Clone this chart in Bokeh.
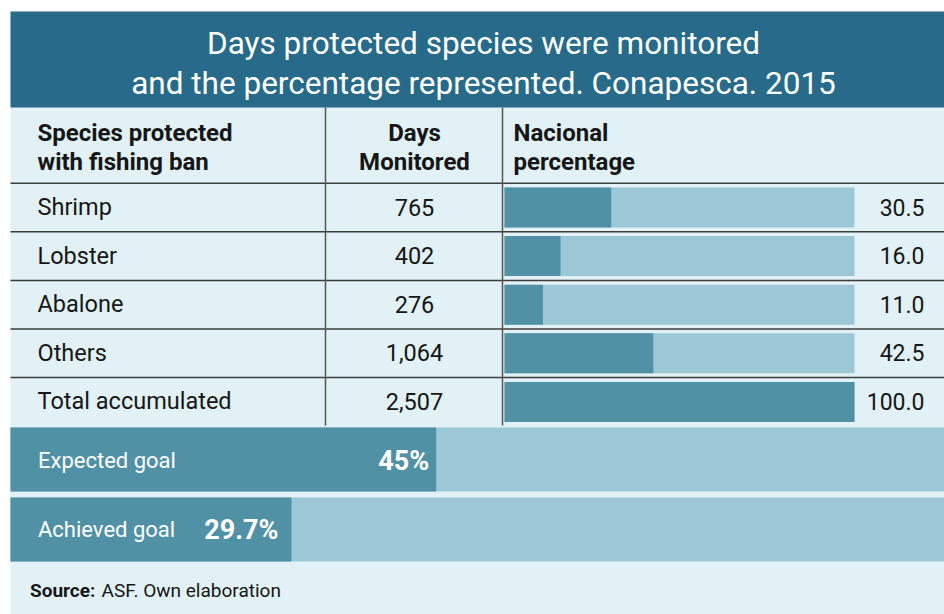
from bokeh.plotting import figure
from bokeh.models import Range1d, ColumnDataSource, Label
from bokeh.core.properties import value
from bokeh.embed import file_html
from bokeh.resources import INLINE

# ---------------- data ----------------
title_lines = ["Days protected species were monitored",
               "and the percentage represented. Conapesca. 2015"]
header_species = ["Species protected", "with fishing  ban"]
header_days = ["Days", "Monitored"]
header_pct = ["Nacional", "percentage"]
species = ["Shrimp", "Lobster", "Abalone", "Others", "Total accumulated"]
days = [765, 402, 276, 1064, 2507]
pct = [30.5, 16.0, 11.0, 42.5, 100.0]
goal_labels = ["Expected goal", "Achieved goal"]
goal_values = [45.0, 29.7]
goal_texts = ["45%", "29.7%"]
source_bold = "Source:"
source_text = "ASF. Own elaboration"

# ---------------- style ----------------
FNAME = "Roboto"
FONT = value(FNAME)
C_TITLE = "#276a8a"
C_PANEL = "#e1f1f5"
C_LIGHT = "#9bc7d7"
C_DARK = "#5191a6"
C_TEXT = "#161616"
C_LINE = "#3d3d3d"

W, H = 944, 614
p = figure(width=W, height=H, output_backend="svg", toolbar_location=None,
           x_range=Range1d(0, W), y_range=Range1d(H, 0),
           x_axis_location=None, y_axis_location=None, min_border=0,
           outline_line_color=None, background_fill_color="white",
           border_fill_color="white")
p.grid.visible = False

# extra scales: row index, national percentage, goal percentage, goal index
ROW0, ROWH = 207.0, 48.6
G0, GH = 459.0, 70.0
PX0, PSC = 504.0, 3.5      # national-percentage bar origin / px per %
GX0, GSC = 10.0, 9.46      # goal bar origin / px per %
p.extra_y_ranges = {
    "rows": Range1d((H - ROW0) / ROWH, (0 - ROW0) / ROWH),
    "goals": Range1d((H - G0) / GH, (0 - G0) / GH),
}
p.extra_x_ranges = {
    "pct": Range1d(-PX0 / PSC, (W - PX0) / PSC),
    "goalpct": Range1d(-GX0 / GSC, (W - GX0) / GSC),
}

# panel and title band
p.quad(left=10, right=W, top=11, bottom=H, fill_color=C_PANEL, line_color=None)
p.quad(left=10, right=W, top=11, bottom=107, fill_color=C_TITLE, line_color=None)

for t, yb in zip(title_lines, [43, 83]):
    p.add_layout(Label(x=483, y=yb, text=t, text_font=FNAME, text_font_size="31.5px",
                       text_color="white", text_align="center",
                       text_baseline="alphabetic"))

# header
HB = [132.5, 161]
for t, yb in zip(header_species, HB):
    p.add_layout(Label(x=37, y=yb, text=t, text_font=FNAME, text_font_size="24px",
                       text_font_style="bold", text_color=C_TEXT,
                       text_baseline="alphabetic"))
for t, yb in zip(header_days, HB):
    p.add_layout(Label(x=414, y=yb, text=t, text_font=FNAME, text_font_size="24px",
                       text_font_style="bold", text_color=C_TEXT, text_align="center",
                       text_baseline="alphabetic"))
for t, yb in zip(header_pct, HB):
    p.add_layout(Label(x=513, y=yb, text=t, text_font=FNAME, text_font_size="24px",
                       text_font_style="bold", text_color=C_TEXT,
                       text_baseline="alphabetic"))

n = len(species)
idx = list(range(n))
src = ColumnDataSource(dict(
    i=idx,
    species=species,
    days=[f"{d:,}" for d in days],
    pct=pct,
    pct_txt=[f"{v:.1f}" for v in pct],
    full=[100.0] * n,
    zero=[0.0] * n,
    lab_y=[k - 0.01 for k in idx],
    lab_x=[(924 - PX0) / PSC] * n,
))

# light (full) bars and dark value bars on the percentage scale
p.hbar(y="i", left="zero", right="full", height=40 / ROWH, source=src,
       fill_color=C_LIGHT, line_color=None, x_range_name="pct", y_range_name="rows")
p.hbar(y="i", left="zero", right="pct", height=40 / ROWH, source=src,
       fill_color=C_DARK, line_color=None, x_range_name="pct", y_range_name="rows")

# row separators (header bottom + between rows)
sep = [k - 0.5 for k in range(n)]
p.segment(x0=[10] * n, x1=[W] * n, y0=sep, y1=sep, line_color=C_LINE,
          line_width=1.5, y_range_name="rows")
# column separators
p.segment(x0=[325, 502], x1=[325, 502], y0=[107, 107], y1=[425, 425],
          line_color="#555555", line_width=1.5)

# row texts
p.text(x=37, y="lab_y", text="species", source=src, text_font=FONT,
       text_font_size="23.5px", text_color=C_TEXT, text_baseline="alphabetic",
       y_range_name="rows")
p.text(x=414, y="lab_y", text="days", source=src, text_font=FONT,
       text_font_size="23.5px", text_color=C_TEXT, text_baseline="alphabetic",
       text_align="center", y_range_name="rows")
p.text(x="lab_x", y="lab_y", text="pct_txt", source=src, text_font=FONT,
       text_font_size="23px", text_color=C_TEXT, text_baseline="alphabetic",
       text_align="right", x_range_name="pct", y_range_name="rows")

# goals
gsrc = ColumnDataSource(dict(
    g=[0, 1],
    lab=goal_labels,
    val=goal_values,
    txt=goal_texts,
    zero=[0.0, 0.0],
    full=[110.0, 110.0],
    lab_y=[0 + 1 / GH, 1 + 0 / GH],
    lab_x=[(37.5 - GX0) / GSC] * 2,
    xoff=[-7, -13],
))
p.hbar(y="g", left="zero", right="full", height=64 / GH, source=gsrc,
       fill_color=C_LIGHT, line_color=None, x_range_name="goalpct", y_range_name="goals")
p.hbar(y="g", left="zero", right="val", height=64 / GH, source=gsrc,
       fill_color=C_DARK, line_color=None, x_range_name="goalpct", y_range_name="goals")
p.text(x="lab_x", y="lab_y", text="lab", source=gsrc, text_font=FONT,
       text_font_size="22px", text_color="white", text_baseline="alphabetic",
       x_range_name="goalpct", y_range_name="goals")
p.text(x="val", y="lab_y", text="txt", source=gsrc, text_font=FONT,
       text_font_size="27px", text_font_style="bold", text_color="white",
       text_baseline="alphabetic", text_align="right", x_offset="xoff",
       x_range_name="goalpct", y_range_name="goals")

# source
p.add_layout(Label(x=29.5, y=590, text=source_bold, text_font=FNAME,
                   text_font_size="19px", text_font_style="bold", text_color=C_TEXT,
                   text_baseline="alphabetic"))
p.add_layout(Label(x=101, y=590, text=source_text, text_font=FNAME,
                   text_font_size="19px", text_color=C_TEXT,
                   text_baseline="alphabetic"))

open("out.html", "w").write(file_html(p, INLINE))
